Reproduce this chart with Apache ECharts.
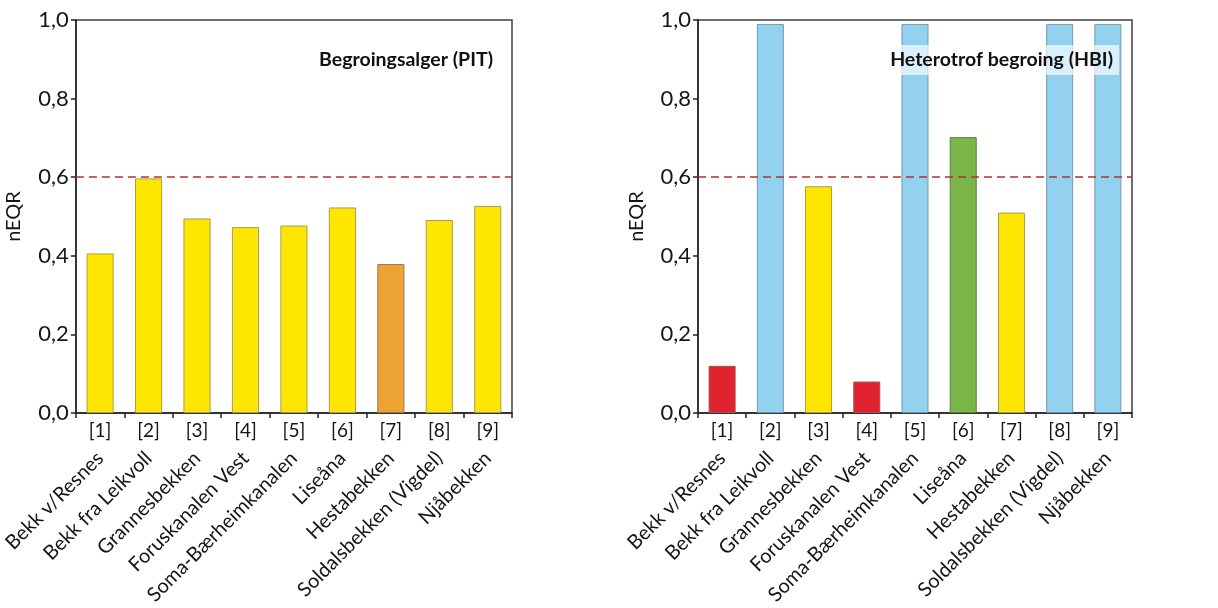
<!DOCTYPE html>
<html>
<head>
<meta charset="utf-8">
<script src="https://cdn.jsdelivr.net/npm/echarts@6/dist/echarts.min.js"></script>
<style>
html,body{margin:0;padding:0;background:#fff;}
#chart{width:1218px;height:608px;}
</style>
</head>
<body>
<div id="chart"></div>
<script>
var codes = ['[1]','[2]','[3]','[4]','[5]','[6]','[7]','[8]','[9]'];
var names = ['Bekk v/Resnes','Bekk fra Leikvoll','Grannesbekken','Foruskanalen Vest','Soma-Bærheimkanalen','Liseåna','Hestabekken','Soldalsbekken (Vigdel)','Njåbekken'];
var pitValues = [0.406, 0.597, 0.495, 0.473, 0.477, 0.523, 0.379, 0.491, 0.527];
var pitClasses = ['yellow','yellow','yellow','yellow','yellow','yellow','orange','yellow','yellow'];
var hbiValues = [0.12, 0.99, 0.577, 0.08, 0.99, 0.702, 0.51, 0.99, 0.99];
var hbiClasses = ['red','blue','yellow','red','blue','green','yellow','blue','blue'];
var threshold = 0.6;
var titles = ['Begroingsalger (PIT)', 'Heterotrof begroing (HBI)'];

var palette = {
  yellow: {fill:'#FFE600', border:'#A89E4A'},
  orange: {fill:'#EDA236', border:'#9A7A4A'},
  red:    {fill:'#E0232F', border:'#A05050'},
  blue:   {fill:'#93D1F1', border:'#7896A8'},
  green:  {fill:'#7AB648', border:'#5E7E46'}
};

var FONT = 'Lato';
var TXT = '#151515';
var chart = echarts.init(document.getElementById('chart'));

function barData(vals, cls){
  return vals.map(function(v,i){
    var p = palette[cls[i]];
    return {value:v, itemStyle:{color:p.fill, borderColor:p.border, borderWidth:1}};
  });
}

var grids = [
  {left:72, right:706, top:20, bottom:195, show:true, borderColor:'#404040', borderWidth:1.5, backgroundColor:'transparent'},
  {left:698, right:86, top:20, bottom:195, show:true, borderColor:'#404040', borderWidth:1.5, backgroundColor:'transparent'}
];
var nameGaps = [52, 51];

var xAxes = [], yAxes = [], series = [];
[0,1].forEach(function(g){
  xAxes.push({
    type:'category', gridIndex:g, data:codes, position:'bottom',
    axisLine:{show:true, lineStyle:{color:'#222', width:1.5}},
    axisTick:{show:true, inside:false, length:5, alignWithLabel:false, lineStyle:{color:'#222', width:1.5}},
    axisLabel:{fontFamily:FONT, fontSize:19, color:TXT, margin:8}
  });
  xAxes.push({
    type:'category', gridIndex:g, data:names, position:'bottom', offset:36,
    axisLine:{show:false}, axisTick:{show:false},
    axisLabel:{fontFamily:FONT, fontSize:20, color:TXT, rotate:45, margin:6, interval:0}
  });
  yAxes.push({
    type:'value', gridIndex:g, min:0, max:1, interval:0.2,
    name:'nEQR', nameLocation:'middle', nameGap:nameGaps[g],
    nameTextStyle:{fontFamily:FONT, fontSize:20, color:TXT},
    axisLine:{show:true, lineStyle:{color:'#222', width:1.5}},
    axisTick:{show:true, length:5, lineStyle:{color:'#222', width:1.5}},
    splitLine:{show:false},
    axisLabel:{fontFamily:FONT, fontSize:22, color:TXT, margin:7,
      formatter:function(v){ return v.toFixed(1).replace('.', ','); }}
  });
});

series.push({
  type:'bar', xAxisIndex:0, yAxisIndex:0, data:barData(pitValues, pitClasses),
  barWidth:'56%', animation:false,
  markLine:{silent:true, symbol:'none', label:{show:false},
    lineStyle:{color:'#B5302A', type:[8,5], width:1.5}, data:[{yAxis:threshold}]}
});
series.push({
  type:'bar', xAxisIndex:2, yAxisIndex:1, data:barData(hbiValues, hbiClasses),
  barWidth:'56%', animation:false, z:2,
  markLine:{silent:true, symbol:'none', label:{show:false}, z:5,
    lineStyle:{color:'#B5302A', type:[8,5], width:1.5}, data:[{yAxis:threshold}]}
});

chart.setOption({
  animation:false,
  backgroundColor:'#fff',
  title:[
    {text:titles[0], right:725, top:50, padding:0,
     textStyle:{fontFamily:FONT, fontSize:19.5, fontWeight:'bold', color:'#111'}},
    {text:titles[1], right:99, top:45, padding:[5,6,5,6],
     backgroundColor:'rgba(255,255,255,0.65)',
     textStyle:{fontFamily:FONT, fontSize:19.5, fontWeight:'bold', color:'#111'}}
  ],
  grid:grids,
  xAxis:xAxes,
  yAxis:yAxes,
  series:series
});
</script>
</body>
</html>
